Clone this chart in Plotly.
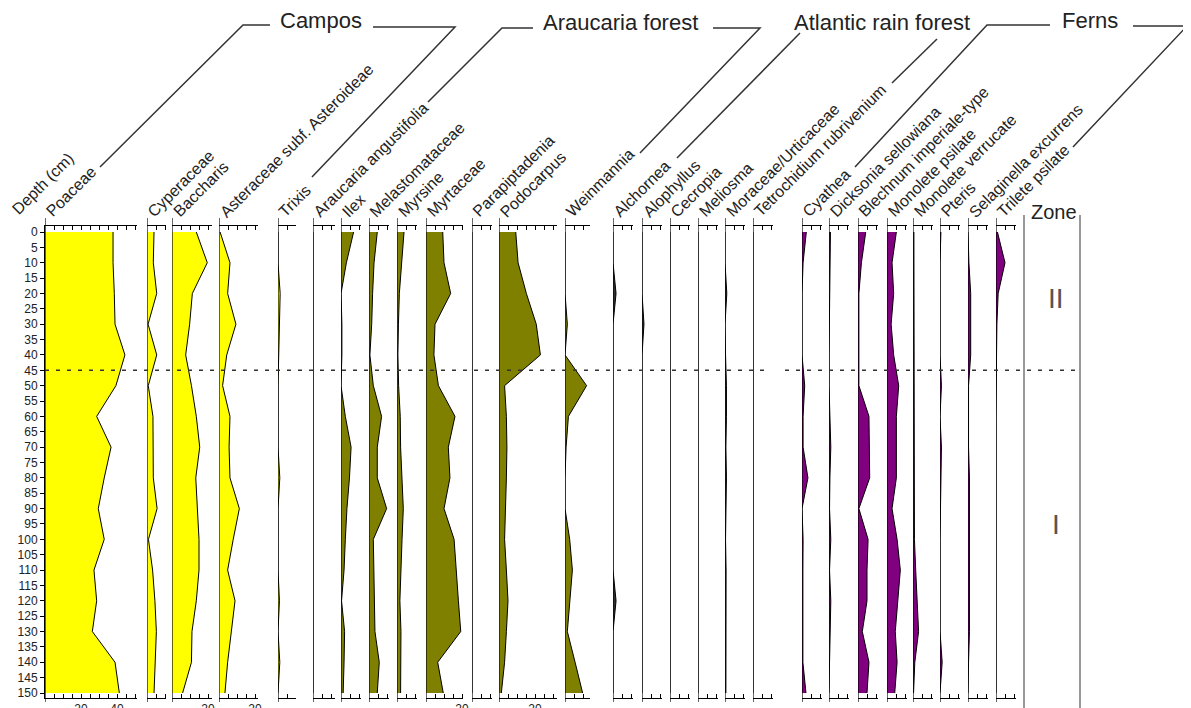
import plotly.graph_objects as go

# ---------------- data ----------------
depths = [0, 10, 20, 30, 40, 50, 60, 70, 80, 90, 100, 110, 120, 130, 140, 150]
depth_ticks = list(range(0, 151, 5))

poaceae = [37.8, 37.8, 38.5, 38.9, 44.4, 39.4, 28.7, 36.7, 32.9, 29.6, 32.9, 27.2, 28.7, 26.3, 38.9, 41.3]
cyperaceae = [3.9, 3.5, 5.4, 0.6, 5.4, 0.7, 3.3, 3.5, 3.5, 5.6, 0.8, 3.1, 4.4, 5.2, 4.4, 3.9]
baccharis = [13.5, 19.6, 11.3, 9.8, 7.6, 10.8, 13.5, 15.4, 13.2, 14.0, 15.0, 15.0, 13.5, 11.1, 10.8, 5.9]
asteroideae = [0.6, 6.1, 4.8, 9.4, 4.3, 2.0, 6.1, 5.6, 6.1, 11.3, 7.9, 4.8, 8.9, 6.7, 4.8, 3.3]
trixis = [0, 0, 1.2, 0.8, 0, 0, 0, 0, 1.0, 0, 0, 0, 0.8, 0, 1.0, 0]

araucaria = [0, 0, 0, 0, 0, 0, 0, 0, 0, 0, 0, 0, 0, 0, 0, 0]
ilex = [7.0, 3.0, 0, 0.5, 0.5, 0, 2.4, 5.6, 4.7, 3.3, 2.4, 1.7, 0.3, 2.0, 1.7, 1.2]
melastomataceae = [4.6, 2.8, 2.0, 1.5, 0.5, 2.4, 7.0, 4.6, 4.6, 9.8, 2.4, 2.8, 3.3, 3.3, 5.7, 4.6]
myrsine = [3.9, 2.4, 1.3, 0.8, 0.5, 0.9, 1.8, 2.0, 2.8, 3.5, 2.8, 2.0, 1.6, 2.2, 2.0, 2.0]
myrtaceae = [9.3, 10.0, 13.7, 5.0, 4.4, 6.9, 16.1, 12.4, 13.3, 10.0, 15.6, 17.0, 18.0, 19.3, 6.5, 9.6]
parapiptadenia = [0, 0, 0, 0, 0, 0, 0, 0, 0, 0, 0, 0, 0, 0, 0, 0]
podocarpus = [9.3, 10.6, 15.2, 20.7, 23.0, 3.1, 4.1, 4.4, 4.1, 3.7, 3.1, 4.1, 5.0, 4.1, 3.1, 1.3]
weinmannia = [0, 0, 0, 1.3, 0, 12.0, 1.9, 0.6, 0, 0, 2.6, 4.1, 2.6, 1.3, 5.6, 9.8]

alchornea = [0, 0, 1.7, 0, 0, 0, 0, 0, 0, 0, 0, 0, 1.7, 0, 0, 0]
alophyllus = [0, 0, 0, 1.1, 0, 0, 0, 0, 0, 0, 0, 0, 0, 0, 0, 0]
cecropia = [0, 0, 0, 0, 0, 0, 0, 0, 0, 0, 0, 0, 0, 0, 0, 0]
meliosma = [0, 0, 0, 0, 0, 0, 0, 0, 0, 0, 0, 0, 0, 0, 0, 0]
moraceae = [0, 0, 1.0, 0, 0.3, 0.8, 0.8, 0.5, 0.8, 0.6, 0.3, 0.6, 0.5, 0.6, 0.6, 0.5]
tetrochidium = [0, 0, 0, 0, 0, 0, 0, 0, 0, 0, 0, 0, 0, 0, 0, 0]

cyathea = [2.4, 0.6, 0, 0, 0, 1.5, 0.6, 0.6, 3.3, 0, 0.6, 0.5, 0.5, 0.5, 0.5, 2.2]
dicksonia = [0.8, 0.5, 0.3, 0.3, 0, 0, 0.5, 1.0, 0.5, 0.3, 1.0, 0.3, 1.0, 0.5, 0.3, 0]
blechnum = [4.3, 1.9, 0.5, 0.5, 0.3, 0.5, 6.1, 6.5, 6.5, 0.5, 5.6, 5.0, 5.0, 2.4, 6.1, 5.0]
monolete_psilate = [5.2, 2.8, 3.7, 2.3, 3.7, 6.5, 5.2, 5.2, 5.2, 2.8, 5.6, 7.4, 5.9, 4.6, 5.6, 4.3]
monolete_verrucate = [0.5, 0.5, 0.5, 0.5, 0.5, 0.5, 0.5, 0.5, 0.5, 0.5, 0.8, 1.5, 2.2, 3.1, 1.0, 0.3]
pteris = [0.5, 0, 0, 0, 0, 0.8, 0, 0.8, 0.5, 0, 0, 0, 0, 0, 1.2, 0]
selaginella = [0, 0.5, 1.5, 1.3, 1.5, 0.3, 0.3, 0.3, 0.8, 0.8, 0.8, 0.8, 0.8, 0.8, 0.3, 0]
trilete_psilate = [0.8, 5.0, 1.2, 0.5, 0.3, 0, 0, 0, 0, 0, 0, 0, 0, 0, 0, 0]

taxon_names = ["Poaceae", "Cyperaceae", "Baccharis", "Asteraceae subf. Asteroideae", "Trixis",
               "Araucaria angustifolia", "Ilex", "Melastomataceae", "Myrsine", "Myrtaceae",
               "Parapiptadenia", "Podocarpus", "Weinmannia",
               "Alchornea", "Alophyllus", "Cecropia", "Meliosma", "Moraceae/Urticaceae",
               "Tetrochidium rubrivenium",
               "Cyathea", "Dicksonia sellowiana", "Blechnum imperiale-type", "Monolete psilate",
               "Monolete verrucate", "Pteris", "Selaginella excurrens", "Trilete psilate"]
taxon_values = [poaceae, cyperaceae, baccharis, asteroideae, trixis,
                araucaria, ilex, melastomataceae, myrsine, myrtaceae, parapiptadenia, podocarpus, weinmannia,
                alchornea, alophyllus, cecropia, meliosma, moraceae, tetrochidium,
                cyathea, dicksonia, blechnum, monolete_psilate, monolete_verrucate, pteris, selaginella,
                trilete_psilate]
taxon_groups = ["Campos"] * 5 + ["Araucaria forest"] * 8 + ["Atlantic rain forest"] * 6 + ["Ferns"] * 8
group_names = ["Campos", "Araucaria forest", "Atlantic rain forest", "Ferns"]
axis_labels = {"Poaceae": [20, 40], "Baccharis": [20], "Asteraceae subf. Asteroideae": [20],
               "Myrtaceae": [20], "Podocarpus": [20]}

zone_names = ["II", "I"]
zone_label_depths = [21.5, 95.3]
zone_boundary = [45]

# ---------------- layout / styles ----------------
# page pixel coordinates; the html body has an 8px margin, so the figure is offset by 8px
OFF = 8
W, H = 1191 - OFF, 708 - OFF
PLOT_TOP, PLOT_BOTTOM = 226, 698          # page px
PX_PER_PCT = 1.8
panel_left = [45, 147, 172, 219, 278,
              313, 341, 369, 397, 426, 472, 499, 565,
              613, 642, 670, 698, 725, 753,
              802, 829, 858, 887, 913, 940, 968, 996]
panel_width = [92, 19, 40, 39, 18,
               22, 20, 20, 20, 37, 20, 58, 25,
               20, 20, 20, 20, 20, 20,
               20, 20, 20, 20, 20, 20, 20, 20]
group_color = {"Campos": "#FFFF00", "Araucaria forest": "#808000",
               "Atlantic rain forest": "#303030", "Ferns": "#800080"}
FONT = "Liberation Sans, Arial, sans-serif"
TXT = "#222222"


def pxx(px):
    return (px - OFF) / W


def pxy(py):
    return (PLOT_BOTTOM - py) / (PLOT_BOTTOM - PLOT_TOP)


fig = go.Figure()
layout_axes = {}
shapes = []
annotations = []

for i, (name, vals, grp) in enumerate(zip(taxon_names, taxon_values, taxon_groups), start=1):
    left = panel_left[i - 1]
    width = panel_width[i - 1]
    xmax = width / PX_PER_PCT
    ax = "x" if i == 1 else f"x{i}"
    key = "xaxis" if i == 1 else f"xaxis{i}"
    tv = list(range(0, int(xmax) + 1, 5))
    tt = [str(t) if t in axis_labels.get(name, []) else "" for t in tv]
    layout_axes[key] = dict(domain=[pxx(left), pxx(left + width)], range=[0, xmax], anchor="y",
                            showline=True, linecolor="black", linewidth=1, mirror="ticks",
                            ticks="inside", ticklen=4, tickcolor="black", tickwidth=1,
                            tickvals=tv, ticktext=tt, showgrid=False, zeroline=False,
                            automargin=False,
                            tickfont=dict(size=12, color=TXT, family=FONT), fixedrange=True)
    fig.add_trace(go.Scatter(x=vals, y=depths, xaxis=ax, yaxis="y", mode="lines",
                             fill="tozerox", fillcolor=group_color[grp],
                             line=dict(color="black", width=1), hoverinfo="skip",
                             showlegend=False))
    shapes.append(dict(type="line", xref=ax, x0=0, x1=0, yref="paper", y0=pxy(702), y1=pxy(218),
                       line=dict(color="black", width=1.2)))
    annotations.append(dict(text=name, xref="paper", yref="paper", x=pxx(left - 5), y=pxy(223),
                            xanchor="left", yanchor="bottom", textangle=-45, showarrow=False,
                            font=dict(size=16, color=TXT, family=FONT)))

annotations.append(dict(text="Depth (cm)", xref="paper", yref="paper", x=pxx(6), y=pxy(220),
                        xanchor="left", yanchor="bottom", textangle=-45, showarrow=False,
                        font=dict(size=16, color=TXT, family=FONT)))

# group headers
group_centers = [(321, 21), (620, 23), (882, 23), (1090, 21)]
for g, (cx, cy) in zip(group_names, group_centers):
    annotations.append(dict(text=g, xref="paper", yref="paper", x=pxx(cx), y=pxy(cy),
                            xanchor="center", yanchor="middle", showarrow=False,
                            font=dict(size=22, color=TXT, family=FONT)))

brackets = [
    [(100, 167), (243, 25), (270, 25)],
    [(373, 27), (455, 27), (312, 177)],
    [(428, 102), (502, 28), (533, 28)],
    [(713, 28), (760, 28), (640, 153)],
    [(677, 158), (800, 33)],
    [(937, 39), (892, 83)],
    [(855, 167), (987, 25), (1050, 25)],
    [(1133, 26), (1187, 26), (1073, 147)],
]
for pts in brackets:
    path = "M " + " L ".join(f"{pxx(x):.5f},{pxy(y):.5f}" for x, y in pts)
    shapes.append(dict(type="path", xref="paper", yref="paper", path=path,
                       line=dict(color="#333333", width=1.5)))

# zone column
for zx in (1024, 1080):
    shapes.append(dict(type="line", xref="paper", yref="paper", x0=pxx(zx), x1=pxx(zx),
                       y0=pxy(710), y1=pxy(215), line=dict(color="#999999", width=2)))
annotations.append(dict(text="Zone", xref="paper", yref="paper", x=pxx(1054), y=pxy(212),
                        xanchor="center", yanchor="middle", showarrow=False,
                        font=dict(size=20, color=TXT, family=FONT)))
for zn, zd in zip(zone_names, zone_label_depths):
    annotations.append(dict(text=zn, xref="paper", yref="y", x=pxx(1056), y=zd,
                            xanchor="center", yanchor="middle", showarrow=False,
                            font=dict(size=28, color="#555555", family=FONT)))

# zone boundary dashed line
for zb in zone_boundary:
    for x0, x1 in ((45, 770), (785, 1080)):
        shapes.append(dict(type="line", xref="paper", yref="y", x0=pxx(x0), x1=pxx(x1), y0=zb, y1=zb,
                           line=dict(color="#333333", width=1.5, dash="4px,7px")))

# depth axis: 0 at 232px, 150 at 693px (page)
ppc = (693 - 232) / 150.0
y_top = -(232 - PLOT_TOP) / ppc
y_bot = 150 + (PLOT_BOTTOM - 693) / ppc

fig.update_layout(
    template="none",
    width=W, height=H,
    autosize=False,
    margin=dict(l=0, r=0, t=PLOT_TOP - OFF, b=(H + OFF) - PLOT_BOTTOM, pad=0, autoexpand=False),
    paper_bgcolor="white", plot_bgcolor="white",
    showlegend=False,
    font=dict(family=FONT, color=TXT),
    yaxis=dict(domain=[0, 1], range=[y_bot, y_top], anchor="x", showline=True, linecolor="black",
               linewidth=1, ticks="outside", ticklen=4, tickcolor="black", tickvals=depth_ticks,
               showgrid=False, zeroline=False, automargin=False,
               tickfont=dict(size=12, color=TXT, family=FONT), fixedrange=True),
    shapes=shapes,
    annotations=annotations,
    **layout_axes,
)

fig.write_html("out.html")
